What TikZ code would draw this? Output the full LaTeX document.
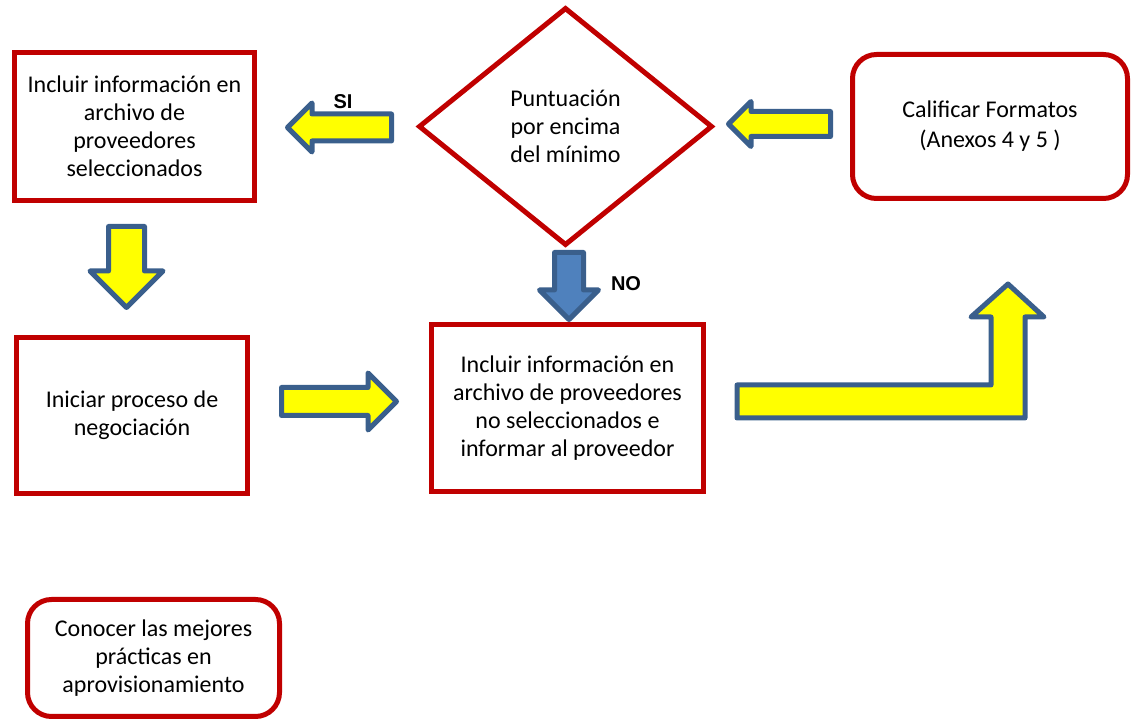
\documentclass[tikz,border=0pt]{standalone}
\usepackage{fontspec}
\setmainfont{Carlito}
\newfontfamily\arialfont{Liberation Sans}
\usetikzlibrary{shapes.geometric,shapes.arrows}

\definecolor{rojo}{HTML}{C00000}
\definecolor{azulborde}{HTML}{3A5F8C}
\definecolor{azulflecha}{HTML}{4F81BD}
\definecolor{amarillo}{HTML}{FFFF00}

\tikzset{
  caja/.style={draw=rojo, line width=2.5pt, align=center, inner sep=0pt,
    font=\fontsize{12}{14}\selectfont},
  cajaredonda/.style={caja, rounded corners=12pt},
  rombo/.style={caja, diamond},
  bloque/.style={draw=azulborde, fill=amarillo, line width=2.5pt, line join=round},
  flecha/.style={bloque, single arrow, inner xsep=0pt, minimum width=0pt,
    single arrow tip angle=90},
  etiqueta/.style={font=\arialfont\bfseries\fontsize{10}{12}\selectfont, inner sep=0pt}
}

\begin{document}
\begin{tikzpicture}[x=0.5pt, y=-0.5pt]
  \useasboundingbox (0,0) rectangle (1132,721);

  % Cajas
  \node[caja, minimum width=120pt, minimum height=74pt] (seleccionados) at (134.5,126.5)
    {Incluir  información en\\archivo de\\proveedores\\seleccionados};
  \node[rombo, minimum width=147pt, minimum height=119pt] (puntuacion) at (565.5,126.5)
    {Puntuación\\por encima\\del mínimo};
  \node[cajaredonda, minimum width=137.5pt, minimum height=72pt,
    font=\fontsize{12}{15}\selectfont] (calificar) at (990,126.5)
    {Calificar Formatos\\(Anexos 4 y 5 )};
  \node[caja, minimum width=115.5pt, minimum height=78pt] (negociacion) at (132,415.5)
    {Iniciar proceso de\\negociación};
  \node[caja, minimum width=136pt, minimum height=83.5pt] (noselec) at (567.5,408)
    {Incluir información en\\archivo de proveedores\\no seleccionados  e\\informar al proveedor};
  \node[cajaredonda, minimum width=126pt, minimum height=58.5pt] (conocer) at (153.5,658)
    {Conocer las mejores\\prácticas en\\aprovisionamiento};

  % Flechas de bloque
  \node[flecha, rotate=180, minimum height=52pt, inner ysep=5.5pt,
    single arrow head extend=5.5pt, anchor=tail] (flechasi)
    at ([xshift=-11pt,yshift=-0.5pt]puntuacion.west) {};
  \node[flecha, rotate=180, minimum height=51pt, inner ysep=5pt,
    single arrow head extend=5pt, anchor=tail] (flechacalificar)
    at ([xshift=-8.5pt,yshift=1.25pt]calificar.west) {};
  \node[flecha, rotate=-90, minimum height=40.5pt, inner ysep=7.75pt,
    single arrow head extend=9.25pt, anchor=tail] (flechabaja)
    at ([xshift=-4pt,yshift=-10.5pt]seleccionados.south) {};
  \node[flecha, fill=azulflecha, rotate=-90, minimum height=33.5pt, inner ysep=6pt,
    single arrow head extend=7.5pt, anchor=tail] (flechano)
    at ([xshift=1.75pt,yshift=-1pt]puntuacion.south) {};
  \node[flecha, minimum height=57.5pt, inner ysep=5.75pt,
    single arrow head extend=7.25pt, anchor=tail] (flechaderecha)
    at ([xshift=14.5pt,yshift=7pt]negociacion.east) {};

  % Flecha en L hacia Calificar
  \draw[bloque] (737,385) -- (991,385) -- (991,317) -- (971,317) -- (1008,284)
    -- (1044,317) -- (1025,317) -- (1025,418) -- (737,418) -- cycle;

  % Etiquetas
  \node[etiqueta] (si) at (343,102) {SI};
  \node[etiqueta] (no) at (626,284) {NO};

\end{tikzpicture}
\end{document}
